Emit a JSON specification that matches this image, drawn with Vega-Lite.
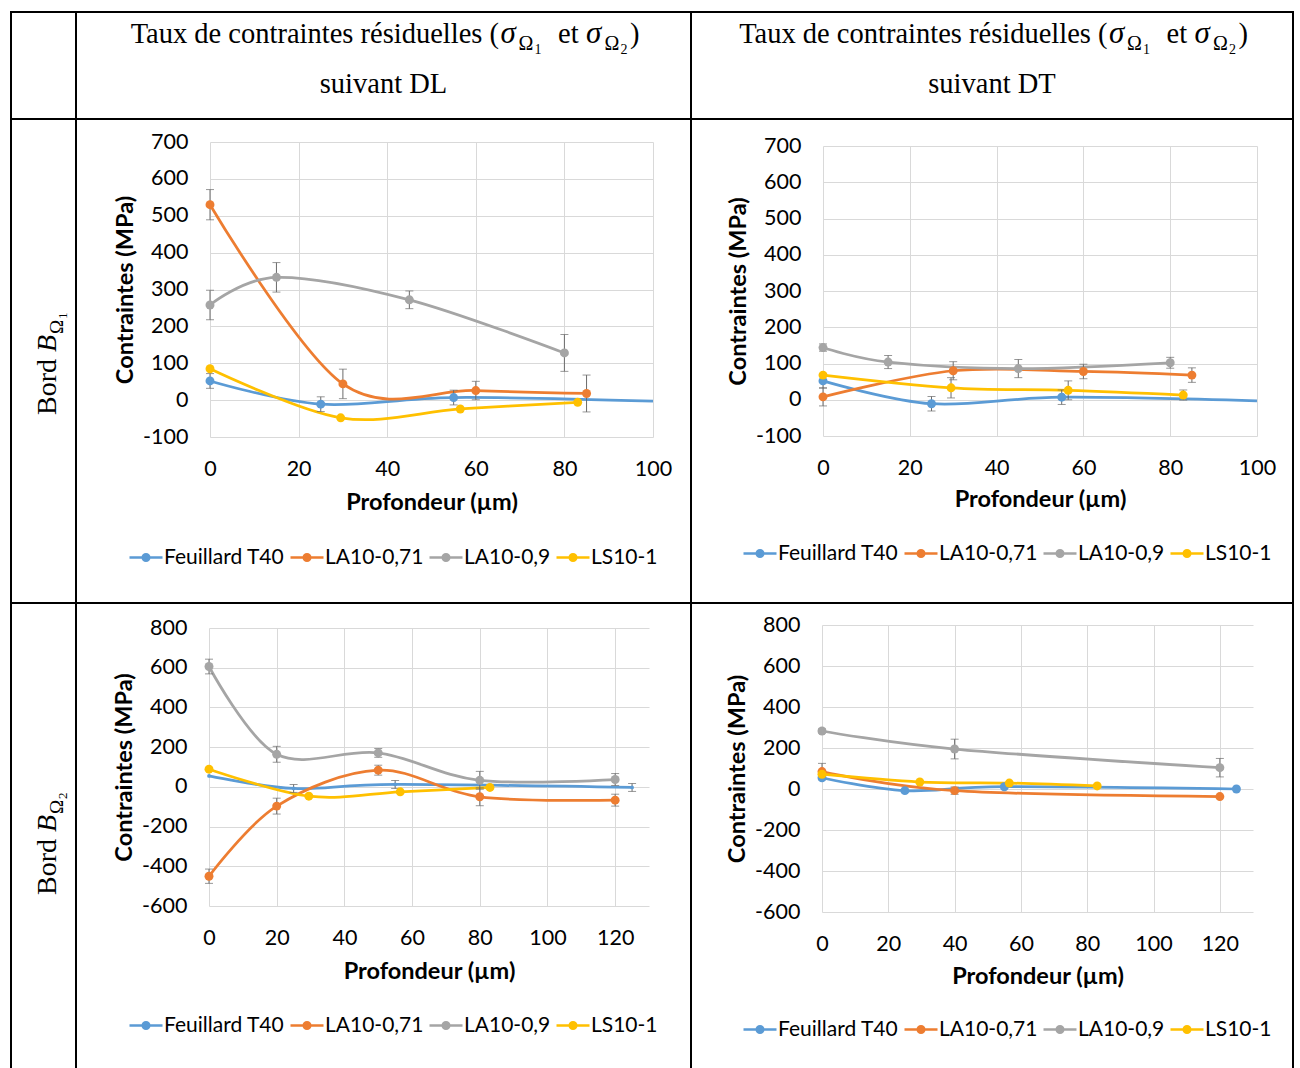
{
  "$schema": "https://vega.github.io/schema/vega-lite/v6.json",
  "padding": {"left": 10, "top": 11, "right": 2, "bottom": 0},
  "background": "white",
  "spacing": 0,
  "bounds": "flush",
  "columns": 3,
  "resolve": {"legend": {"color": "independent"}},
  "config": {
    "view": {"stroke": "#000", "strokeWidth": 2},
    "font": "Lato",
    "axis": {"labelFont": "Lato", "labelFontSize": 21.5, "labelColor": "#000", "titleFont": "Lato", "titleFontSize": 23.5, "titleFontWeight": "bold", "titleColor": "#000", "domain": false, "ticks": false, "tickSize": 0, "grid": true, "gridColor": "#D9D9D9", "gridWidth": 1, "labelFlush": false, "labelOverlap": false},
    "axisLeft": {"labelPadding": 22, "titlePadding": 5},
    "axisTop": {"labelPadding": -21, "labelBaseline": "top", "titleBaseline": "middle"},
    "legend": {"labelFont": "Lato", "labelFontSize": 21, "labelColor": "#000", "symbolType": "M-1,0L1,0M-0.2,0A0.2,0.2,0,1,1,0.2,0A0.2,0.2,0,1,1,-0.2,0Z", "symbolSize": 1089, "symbolStrokeWidth": 2.5, "labelOffset": 0, "columnPadding": 0, "padding": 0, "orient": "none", "direction": "horizontal", "title": null},
    "text": {"font": "Liberation Serif", "color": "#000", "baseline": "alphabetic"}
  },
  "datasets": {
    "tl": [
      {"s": "Feuillard T40", "x": 0, "y": 52, "e": 20},
      {"s": "Feuillard T40", "x": 25, "y": -11, "e": 20},
      {"s": "Feuillard T40", "x": 55, "y": 7, "e": 20},
      {"s": "Feuillard T40", "x": 125, "y": -3},
      {"s": "LA10-0,71", "x": 0, "y": 530, "e": 41},
      {"s": "LA10-0,71", "x": 30, "y": 44, "e": 40},
      {"s": "LA10-0,71", "x": 60, "y": 26, "e": 25},
      {"s": "LA10-0,71", "x": 85, "y": 18, "e": 50},
      {"s": "LA10-0,9", "x": 0, "y": 258, "e": 40},
      {"s": "LA10-0,9", "x": 15, "y": 333, "e": 40},
      {"s": "LA10-0,9", "x": 45, "y": 272, "e": 24},
      {"s": "LA10-0,9", "x": 80, "y": 128, "e": 50},
      {"s": "LS10-1", "x": 0, "y": 85},
      {"s": "LS10-1", "x": 29.5, "y": -48},
      {"s": "LS10-1", "x": 56.5, "y": -24},
      {"s": "LS10-1", "x": 83, "y": -6}
    ],
    "tr": [
      {"s": "Feuillard T40", "x": 0, "y": 52, "e": 20},
      {"s": "Feuillard T40", "x": 25, "y": -11, "e": 20},
      {"s": "Feuillard T40", "x": 55, "y": 7, "e": 20},
      {"s": "Feuillard T40", "x": 125, "y": -3},
      {"s": "LA10-0,71", "x": 0, "y": 8, "e": 25},
      {"s": "LA10-0,71", "x": 30, "y": 80, "e": 25},
      {"s": "LA10-0,71", "x": 60, "y": 78, "e": 20},
      {"s": "LA10-0,71", "x": 85, "y": 68, "e": 20},
      {"s": "LA10-0,9", "x": 0, "y": 144, "e": 10},
      {"s": "LA10-0,9", "x": 15, "y": 104, "e": 18},
      {"s": "LA10-0,9", "x": 45, "y": 86, "e": 25},
      {"s": "LA10-0,9", "x": 80, "y": 102, "e": 15},
      {"s": "LS10-1", "x": 0, "y": 68},
      {"s": "LS10-1", "x": 29.5, "y": 33, "e": 28},
      {"s": "LS10-1", "x": 56.5, "y": 26, "e": 26},
      {"s": "LS10-1", "x": 83, "y": 13, "e": 14}
    ],
    "bl": [
      {"s": "Feuillard T40", "x": 0, "y": 55},
      {"s": "Feuillard T40", "x": 25, "y": -8, "e": 20},
      {"s": "Feuillard T40", "x": 55, "y": 12, "e": 20},
      {"s": "Feuillard T40", "x": 125, "y": -3, "e": 20},
      {"s": "LA10-0,71", "x": 0, "y": -450, "e": 36},
      {"s": "LA10-0,71", "x": 20, "y": -97, "e": 40},
      {"s": "LA10-0,71", "x": 50, "y": 84, "e": 25},
      {"s": "LA10-0,71", "x": 80, "y": -50, "e": 45},
      {"s": "LA10-0,71", "x": 120, "y": -67, "e": 30},
      {"s": "LA10-0,9", "x": 0, "y": 606, "e": 37},
      {"s": "LA10-0,9", "x": 20, "y": 164, "e": 40},
      {"s": "LA10-0,9", "x": 50, "y": 171, "e": 22},
      {"s": "LA10-0,9", "x": 80, "y": 33, "e": 45},
      {"s": "LA10-0,9", "x": 120, "y": 37, "e": 30},
      {"s": "LS10-1", "x": 0, "y": 89},
      {"s": "LS10-1", "x": 29.5, "y": -47},
      {"s": "LS10-1", "x": 56.5, "y": -25},
      {"s": "LS10-1", "x": 83, "y": -3}
    ],
    "br": [
      {"s": "Feuillard T40", "x": 0, "y": 55},
      {"s": "Feuillard T40", "x": 25, "y": -8},
      {"s": "Feuillard T40", "x": 55, "y": 11},
      {"s": "Feuillard T40", "x": 125, "y": 0},
      {"s": "LA10-0,71", "x": 0, "y": 85, "e": 40},
      {"s": "LA10-0,71", "x": 40, "y": -8, "e": 18},
      {"s": "LA10-0,71", "x": 120, "y": -37},
      {"s": "LA10-0,9", "x": 0, "y": 283, "e": 10},
      {"s": "LA10-0,9", "x": 40, "y": 195, "e": 48},
      {"s": "LA10-0,9", "x": 120, "y": 104, "e": 45},
      {"s": "LS10-1", "x": 0, "y": 72},
      {"s": "LS10-1", "x": 29.5, "y": 34},
      {"s": "LS10-1", "x": 56.5, "y": 29},
      {"s": "LS10-1", "x": 83, "y": 15}
    ]
  },
  "concat": [
    {"width": 65, "height": 107, "view": {"stroke": "#000", "strokeWidth": 2}, "data": {"values": [{}]}, "mark": {"type": "text", "text": " "}},
    {"width": 615, "height": 107, "view": {"stroke": "#000", "strokeWidth": 2}, "data": {"values": [{}]},
     "layer": [
      {"mark": {"type": "text", "text": "Taux de contraintes résiduelles (", "align": "right", "dx": 115.5, "dy": -22.5, "fontSize": 28.5}},
      {"mark": {"type": "text", "text": "σ", "align": "left", "fontStyle": "italic", "dx": 117, "dy": -22.5, "fontSize": 31}},
      {"mark": {"type": "text", "text": "Ω", "align": "left", "dx": 135, "dy": -15.5, "fontSize": 20}},
      {"mark": {"type": "text", "text": "1", "align": "left", "dx": 151, "dy": -11.5, "fontSize": 14}},
      {"mark": {"type": "text", "text": "et", "align": "left", "dx": 174.5, "dy": -22.5, "fontSize": 28.5}},
      {"mark": {"type": "text", "text": "σ", "align": "left", "fontStyle": "italic", "dx": 202.5, "dy": -22.5, "fontSize": 31}},
      {"mark": {"type": "text", "text": "Ω", "align": "left", "dx": 221, "dy": -15.5, "fontSize": 20}},
      {"mark": {"type": "text", "text": "2", "align": "left", "dx": 237, "dy": -11.5, "fontSize": 14}},
      {"mark": {"type": "text", "text": ")", "align": "left", "dx": 246.5, "dy": -22.5, "fontSize": 28.5}},
      {"mark": {"type": "text", "text": "suivant DL", "align": "center", "dy": 27.5, "fontSize": 28.5}}
     ]},
    {"width": 602, "height": 107, "view": {"stroke": "#000", "strokeWidth": 2}, "data": {"values": [{}]},
     "layer": [
      {"mark": {"type": "text", "text": "Taux de contraintes résiduelles (", "align": "right", "dx": 115.5, "dy": -22.5, "fontSize": 28.5}},
      {"mark": {"type": "text", "text": "σ", "align": "left", "fontStyle": "italic", "dx": 117, "dy": -22.5, "fontSize": 31}},
      {"mark": {"type": "text", "text": "Ω", "align": "left", "dx": 135, "dy": -15.5, "fontSize": 20}},
      {"mark": {"type": "text", "text": "1", "align": "left", "dx": 151, "dy": -11.5, "fontSize": 14}},
      {"mark": {"type": "text", "text": "et", "align": "left", "dx": 174.5, "dy": -22.5, "fontSize": 28.5}},
      {"mark": {"type": "text", "text": "σ", "align": "left", "fontStyle": "italic", "dx": 202.5, "dy": -22.5, "fontSize": 31}},
      {"mark": {"type": "text", "text": "Ω", "align": "left", "dx": 221, "dy": -15.5, "fontSize": 20}},
      {"mark": {"type": "text", "text": "2", "align": "left", "dx": 237, "dy": -11.5, "fontSize": 14}},
      {"mark": {"type": "text", "text": ")", "align": "left", "dx": 246.5, "dy": -22.5, "fontSize": 28.5}},
      {"mark": {"type": "text", "text": "suivant DT", "align": "center", "dy": 27.5, "fontSize": 28.5}}
     ]},
    {"width": 65, "height": 484, "view": {"stroke": "#000", "strokeWidth": 2}, "data": {"values": [{}]},
     "layer": [
      {"mark": {"type": "text", "text": "Bord", "align": "left", "angle": 270, "dx": -54, "dy": 12, "fontSize": 28}},
      {"mark": {"type": "text", "text": "B", "align": "left", "angle": 270, "fontStyle": "italic", "dx": 9, "dy": 12, "fontSize": 28}},
      {"mark": {"type": "text", "text": "Ω", "align": "left", "angle": 270, "dx": 27, "dy": 19, "fontSize": 19}},
      {"mark": {"type": "text", "text": "1", "align": "left", "angle": 270, "dx": 42, "dy": 23, "fontSize": 13}}
     ]},
    {"width": 615, "height": 484, "data": {"name": "tl"},
     "encoding": {
      "x": {"field": "x", "type": "quantitative", "scale": {"domain": [0, 100], "range": [134, 577], "nice": false, "zero": false, "clamp": true}, "axis": {"orient": "top", "offset": -318, "values": [0, 20, 40, 60, 80, 100], "title": "Profondeur (µm)", "titleY": 65}},
      "y": {"field": "y", "type": "quantitative", "scale": {"domain": [-100, 700], "range": [318, 23], "nice": false, "zero": false}, "axis": {"offset": -134, "values": [-100, 0, 100, 200, 300, 400, 500, 600, 700], "labelExpr": "'' + datum.value", "title": "Contraintes (MPa)"}},
      "color": {"field": "s", "type": "nominal", "scale": {"domain": ["Feuillard T40", "LA10-0,71", "LA10-0,9", "LS10-1"], "range": ["#5B9BD5", "#ED7D31", "#A5A5A5", "#FFC000"]},
        "legend": {"legendX": 52, "legendY": 420.5, "encode": {"symbols": {"update": {"fill": {"scale": "color", "field": "value"}, "stroke": {"scale": "color", "field": "value"}}}}}}
     },
     "layer": [
      {"mark": {"type": "line", "interpolate": "cardinal", "strokeWidth": 2.75}},
      {"transform": [{"filter": "isValid(datum.e) && datum.x <= 100"}], "mark": {"type": "errorbar", "ticks": {"size": 8, "thickness": 1}, "rule": {"strokeWidth": 1}}, "encoding": {"yError": {"field": "e"}, "color": {"value": "#6b6b6b"}}},
      {"transform": [{"filter": "datum.x <= 100"}], "mark": {"type": "circle", "size": 80, "opacity": 1}}
     ]},
    {"width": 602, "height": 484, "data": {"name": "tr"},
     "encoding": {
      "x": {"field": "x", "type": "quantitative", "scale": {"domain": [0, 100], "range": [132, 566], "nice": false, "zero": false, "clamp": true}, "axis": {"orient": "top", "offset": -317, "values": [0, 20, 40, 60, 80, 100], "title": "Profondeur (µm)", "titleY": 63}},
      "y": {"field": "y", "type": "quantitative", "scale": {"domain": [-100, 700], "range": [317, 27], "nice": false, "zero": false}, "axis": {"offset": -132, "values": [-100, 0, 100, 200, 300, 400, 500, 600, 700], "labelExpr": "'' + datum.value", "title": "Contraintes (MPa)"}},
      "color": {"field": "s", "type": "nominal", "scale": {"domain": ["Feuillard T40", "LA10-0,71", "LA10-0,9", "LS10-1"], "range": ["#5B9BD5", "#ED7D31", "#A5A5A5", "#FFC000"]},
        "legend": {"legendX": 51, "legendY": 416.5, "encode": {"symbols": {"update": {"fill": {"scale": "color", "field": "value"}, "stroke": {"scale": "color", "field": "value"}}}}}}
     },
     "layer": [
      {"mark": {"type": "line", "interpolate": "cardinal", "strokeWidth": 2.75}},
      {"transform": [{"filter": "isValid(datum.e) && datum.x <= 100"}], "mark": {"type": "errorbar", "ticks": {"size": 8, "thickness": 1}, "rule": {"strokeWidth": 1}}, "encoding": {"yError": {"field": "e"}, "color": {"value": "#6b6b6b"}}},
      {"transform": [{"filter": "datum.x <= 100"}], "mark": {"type": "circle", "size": 80, "opacity": 1}}
     ]},
    {"width": 65, "height": 468, "view": {"stroke": "#000", "strokeWidth": 2}, "data": {"values": [{}]},
     "layer": [
      {"mark": {"type": "text", "text": "Bord", "align": "left", "angle": 270, "dx": -58, "dy": 12, "fontSize": 28}},
      {"mark": {"type": "text", "text": "B", "align": "left", "angle": 270, "fontStyle": "italic", "dx": 5, "dy": 12, "fontSize": 28}},
      {"mark": {"type": "text", "text": "Ω", "align": "left", "angle": 270, "dx": 23, "dy": 19, "fontSize": 19}},
      {"mark": {"type": "text", "text": "2", "align": "left", "angle": 270, "dx": 38, "dy": 23, "fontSize": 13}}
     ]},
    {"width": 615, "height": 468, "data": {"name": "bl"},
     "encoding": {
      "x": {"field": "x", "type": "quantitative", "scale": {"domain": [0, 130], "range": [133, 573], "nice": false, "zero": false, "clamp": true}, "axis": {"orient": "top", "offset": -303, "values": [0, 20, 40, 60, 80, 100, 120], "title": "Profondeur (µm)", "titleY": 65}},
      "y": {"field": "y", "type": "quantitative", "scale": {"domain": [-600, 800], "range": [303, 25], "nice": false, "zero": false}, "axis": {"offset": -133, "values": [-600, -400, -200, 0, 200, 400, 600, 800], "labelExpr": "'' + datum.value", "title": "Contraintes (MPa)"}},
      "color": {"field": "s", "type": "nominal", "scale": {"domain": ["Feuillard T40", "LA10-0,71", "LA10-0,9", "LS10-1"], "range": ["#5B9BD5", "#ED7D31", "#A5A5A5", "#FFC000"]},
        "legend": {"legendX": 52, "legendY": 404.5, "encode": {"symbols": {"update": {"fill": {"scale": "color", "field": "value"}, "stroke": {"scale": "color", "field": "value"}}}}}}
     },
     "layer": [
      {"mark": {"type": "line", "interpolate": "cardinal", "strokeWidth": 2.75}},
      {"transform": [{"filter": "isValid(datum.e)"}], "mark": {"type": "errorbar", "ticks": {"size": 8, "thickness": 1}, "rule": {"strokeWidth": 1}}, "encoding": {"yError": {"field": "e"}, "color": {"value": "#6b6b6b"}}},
      {"transform": [{"filter": "datum.s != 'Feuillard T40'"}], "mark": {"type": "circle", "size": 80, "opacity": 1}},
      {"transform": [{"filter": "datum.s == 'Feuillard T40'"}], "mark": {"type": "circle", "size": 14, "opacity": 1}}
     ]},
    {"width": 602, "height": 468, "data": {"name": "br"},
     "encoding": {
      "x": {"field": "x", "type": "quantitative", "scale": {"domain": [0, 130], "range": [131, 562], "nice": false, "zero": false, "clamp": true}, "axis": {"orient": "top", "offset": -309, "values": [0, 20, 40, 60, 80, 100, 120], "title": "Profondeur (µm)", "titleY": 64}},
      "y": {"field": "y", "type": "quantitative", "scale": {"domain": [-600, 800], "range": [309, 22], "nice": false, "zero": false}, "axis": {"offset": -131, "values": [-600, -400, -200, 0, 200, 400, 600, 800], "labelExpr": "'' + datum.value", "title": "Contraintes (MPa)"}},
      "color": {"field": "s", "type": "nominal", "scale": {"domain": ["Feuillard T40", "LA10-0,71", "LA10-0,9", "LS10-1"], "range": ["#5B9BD5", "#ED7D31", "#A5A5A5", "#FFC000"]},
        "legend": {"legendX": 51, "legendY": 408.5, "encode": {"symbols": {"update": {"fill": {"scale": "color", "field": "value"}, "stroke": {"scale": "color", "field": "value"}}}}}}
     },
     "layer": [
      {"mark": {"type": "line", "interpolate": "cardinal", "strokeWidth": 2.75}},
      {"transform": [{"filter": "isValid(datum.e)"}], "mark": {"type": "errorbar", "ticks": {"size": 8, "thickness": 1}, "rule": {"strokeWidth": 1}}, "encoding": {"yError": {"field": "e"}, "color": {"value": "#6b6b6b"}}},
      {"mark": {"type": "circle", "size": 80, "opacity": 1}}
     ]}
  ]
}
